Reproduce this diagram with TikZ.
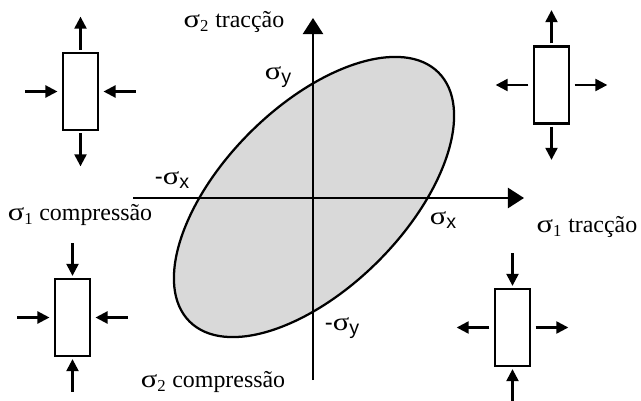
\documentclass[tikz,border=0pt]{standalone}
\usepackage{fontspec}
\usepackage{graphicx}
\setmainfont{Liberation Serif}
\setsansfont{Liberation Sans}
\usetikzlibrary{arrows.meta, positioning}
\newcommand{\sg}{\scalebox{1.28}[1.05]{σ}}
\newcommand{\sig}[1]{\sg\raisebox{-0.4ex}{\sffamily\fontsize{14}{14}\selectfont #1}}
\newcommand{\sigi}[1]{\sg\textsubscript{#1}}
\begin{document}
\begin{tikzpicture}[x=0.025cm, y=-0.025cm]
  \tikzstyle{elem} = [draw, line width=1.6pt, minimum width=0.875cm, minimum height=1.925cm, inner sep=0pt]
  \tikzstyle{pull} = [-{Triangle[length=0.3cm, width=0.3cm]}, line width=1.6pt]
  \tikzstyle{push} = [{Triangle[length=0.3cm, width=0.3cm]}-, line width=1.6pt]
  \tikzstyle{axis} = [-{Triangle[length=0.4cm, width=0.5cm]}, line width=1.6pt]
  \tikzstyle{lbl} = [inner sep=0pt, font=\fontsize{17}{20}\selectfont]
  \useasboundingbox (0,0) rectangle (641,401);

  % yield surface
  \coordinate (E) at (314,197);
  \draw[line width=1.6pt, fill=black!15, rotate around={45:(E)}] (E) ellipse [x radius=4.4cm, y radius=2.27cm];

  % axes
  \coordinate (xl) at (133,198);
  \coordinate (xr) at (524,198);
  \coordinate (yb) at (313,380);
  \coordinate (yt) at (313,18);
  \draw[axis] (xl) -- (xr);
  \draw[axis] (yb) -- (yt);

  % labels
  \node[lbl] (t2) at (234,22) {\sigi{2} tracção};
  \node[lbl] (c2) at (213,382) {\sigi{2} compressão};
  \node[lbl] (c1) at (80,215) {\sigi{1} compressão};
  \node[lbl] (t1) at (587,227) {\sigi{1} tracção};
  \node[lbl] (sy) at (278,77) {\sig{y}};
  \node[lbl] (msy) at (342,328) {\textsf{-}\sig{y}};
  \node[lbl] (sx) at (443,220) {\sig{x}};
  \node[lbl] (msx) at (172,180) {\textsf{-}\sig{x}};

  % stress elements
  \node[elem] (tl) at (80.5,91.5) {};
  \node[elem] (tr) at (551.5,85) {};
  \node[elem] (bl) at (72.5,317.5) {};
  \node[elem] (br) at (512.5,327.5) {};
  \foreach \e/\v/\h in {tl/pull/push, tr/pull/pull, bl/push/push, br/push/pull} {
    \coordinate[above=0.88cm of \e.north] (\e-n);
    \coordinate[below=0.88cm of \e.south] (\e-s);
    \coordinate[left=0.93cm of \e.west] (\e-w);
    \coordinate[right=0.93cm of \e.east] (\e-e);
    \draw[\v, shorten <=0.05cm] (\e.north) -- (\e-n);
    \draw[\v, shorten <=0.05cm] (\e.south) -- (\e-s);
    \draw[\h, shorten <=0.11cm] (\e.west) -- (\e-w);
    \draw[\h, shorten <=0.11cm] (\e.east) -- (\e-e);
  }
\end{tikzpicture}
\end{document}
